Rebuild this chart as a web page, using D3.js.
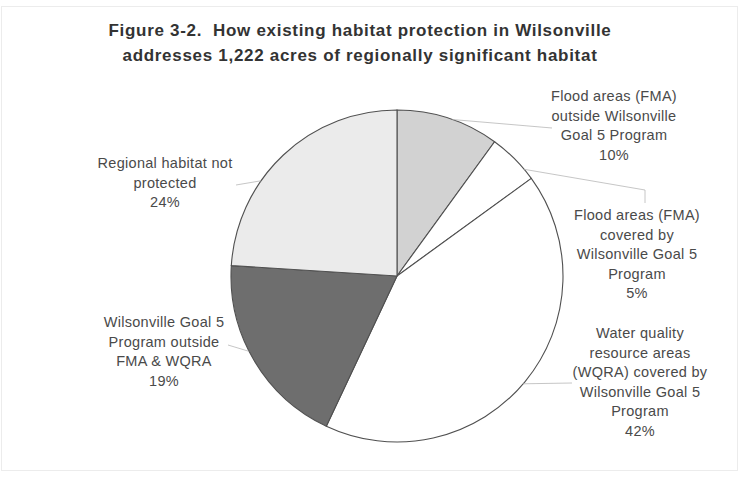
<!DOCTYPE html>
<html>
<head>
<meta charset="utf-8">
<script src="https://cdn.jsdelivr.net/npm/d3@7"></script>
<style>
  body { margin: 0; background: #fff; }
  svg { display: block; font-family: "Liberation Sans", Arial, sans-serif; }
  text { white-space: pre; }
</style>
</head>
<body>
<div id="chart"></div>
<script>
// data
const categories = [
  "Flood areas (FMA) outside Wilsonville Goal 5 Program",
  "Flood areas (FMA) covered by Wilsonville Goal 5 Program",
  "Water quality resource areas (WQRA) covered by Wilsonville Goal 5 Program",
  "Wilsonville Goal 5 Program outside FMA & WQRA",
  "Regional habitat not protected"
];
const percents = [10, 5, 42, 19, 24];
const labelLines = [
  ["Flood areas (FMA)", "outside Wilsonville", "Goal 5 Program"],
  ["Flood areas (FMA)", "covered by", "Wilsonville Goal 5", "Program"],
  ["Water quality", "resource areas", "(WQRA) covered by", "Wilsonville Goal 5", "Program"],
  ["Wilsonville Goal 5", "Program outside", "FMA & WQRA"],
  ["Regional habitat not", "protected"]
];
const titleLines = [
  "Figure 3-2.  How existing habitat protection in Wilsonville",
  "addresses 1,222 acres of regionally significant habitat"
];

const fills = ["#d2d2d2", "#ffffff", "#ffffff", "#6e6e6e", "#ebebeb"];

// label layout: centre x, first baseline, leader anchor angle on rim, leader bend points
const labelPos = [
  { x: 614, y: 101, ang: 19.5, pts: [[552, 128]] },
  { x: 637, y: 220, ang: 50, pts: [[645, 190], [645, 203]] },
  { x: 640, y: 338, ang: 130.5, pts: [[572, 383]] },
  { x: 164, y: 327, ang: 243, pts: [[228, 345]] },
  { x: 165, y: 168, ang: 305, pts: [[236, 185]] }
];

const width = 743, height = 491;
const cx = 397, cy = 276, r = 166;
const lineH = 19.5;

const svg = d3.select("#chart").append("svg")
  .attr("width", width)
  .attr("height", height);

// faint frame of the scanned chart area
svg.append("rect")
  .attr("x", 1.5).attr("y", 6.5)
  .attr("width", 736).attr("height", 464)
  .attr("fill", "none")
  .attr("stroke", "#ececec");

// title
svg.append("text")
  .attr("text-anchor", "middle")
  .attr("font-weight", "bold")
  .attr("font-size", 17)
  .attr("letter-spacing", 0.7)
  .attr("fill", "#333")
  .selectAll("tspan")
  .data(titleLines)
  .join("tspan")
  .attr("x", 360)
  .attr("y", (d, i) => 36 + i * 25)
  .text(d => d);

const pie = d3.pie().sort(null).value(d => d)(percents);
const arc = d3.arc().innerRadius(0).outerRadius(r);

const g = svg.append("g").attr("transform", `translate(${cx},${cy})`);

g.selectAll("path.slice")
  .data(pie)
  .join("path")
  .attr("class", "slice")
  .attr("d", arc)
  .attr("fill", (d, i) => fills[i])
  .attr("stroke", "#505050")
  .attr("stroke-width", 1.1);

// leader lines
const rim = a => {
  const t = a * Math.PI / 180;
  return [cx + r * Math.sin(t), cy - r * Math.cos(t)];
};
const line = d3.line();
svg.selectAll("path.leader")
  .data(labelPos)
  .join("path")
  .attr("class", "leader")
  .attr("d", d => line([rim(d.ang), ...d.pts]))
  .attr("fill", "none")
  .attr("stroke", "#b8b8b8")
  .attr("stroke-width", 0.8);

// labels
const labels = svg.selectAll("text.label")
  .data(pie)
  .join("text")
  .attr("class", "label")
  .attr("text-anchor", "middle")
  .attr("font-size", 14.5)
  .attr("letter-spacing", 0.3)
  .attr("fill", "#4a4a4a");

labels.selectAll("tspan")
  .data((d, i) => labelLines[i].concat([d3.format(".0f")(d.data) + "%"])
    .map((t, k) => ({ t, k, p: labelPos[i] })))
  .join("tspan")
  .attr("x", d => d.p.x)
  .attr("y", d => d.p.y + d.k * lineH)
  .text(d => d.t);
</script>
</body>
</html>
